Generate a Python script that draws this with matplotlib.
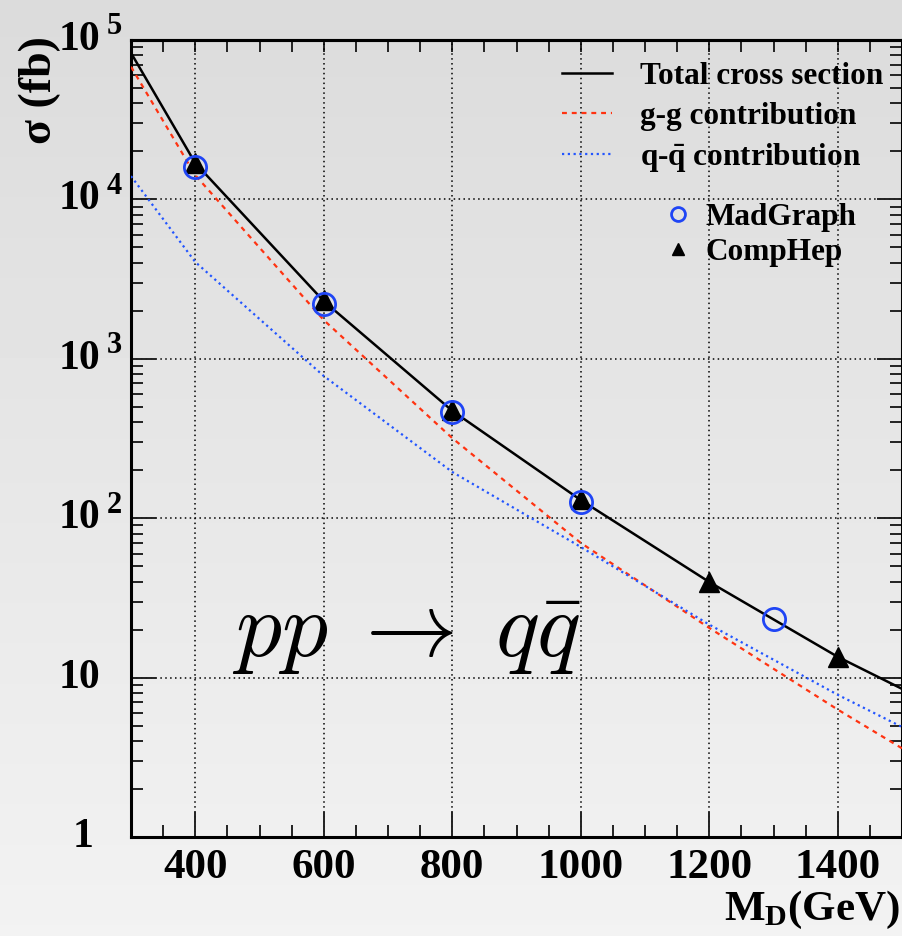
#! /usr/bin/python
# -*- coding: utf-8 -*-

import numpy as np
import matplotlib
matplotlib.use('Agg')
import matplotlib.pyplot as plt
from matplotlib.lines import Line2D
from matplotlib.ticker import FixedLocator, LogLocator, NullFormatter

plt.rcParams['font.family'] = ['Liberation Serif', 'DejaVu Serif']
plt.rcParams['font.weight'] = 'bold'
plt.rcParams['mathtext.fontset'] = 'custom'
plt.rcParams['mathtext.rm'] = 'Liberation Serif:bold'
plt.rcParams['mathtext.bf'] = 'Liberation Serif:bold'
plt.rcParams['mathtext.it'] = 'Liberation Serif:bold:italic'

# Curves (M_D in GeV, sigma in fb)
md_curve = [300, 400, 600, 800, 1000, 1200, 1400, 1500]
sigma_total = [8.3e4, 1.69e4, 2300, 472, 130, 39.8, 13.5, 8.5]
sigma_gg = [6.8e4, 1.42e4, 1750, 318, 70, 20.5, 6.3, 3.6]
sigma_qq = [1.4e4, 4050, 780, 195, 66, 21.5, 7.8, 4.9]

# Generator points
md_madgraph = [400, 600, 800, 1000, 1300]
sigma_madgraph = [1.6e4, 2200, 463, 127, 23.3]
md_comphep = [400, 600, 800, 1000, 1200, 1400]
sigma_comphep = [1.69e4, 2340, 477, 132, 39.8, 13.5]

x_ticks = [400, 600, 800, 1000, 1200, 1400]
y_decades = [0, 1, 2, 3, 4, 5]

W, H = 903, 936
fig = plt.figure(figsize=(W / 100, H / 100), dpi=100)

# gray gradient background
bg = fig.add_axes([0, 0, 1, 1], zorder=-10)
grad = np.linspace(0.86, 0.95, 256).reshape(-1, 1)
bg.imshow(grad, aspect='auto', cmap='gray', vmin=0, vmax=1, extent=[0, 1, 0, 1])
bg.axis('off')

L, R, T, B = 131, 902, 40, 837
ax = fig.add_axes([L / W, 1 - B / H, (R - L) / W, (B - T) / H])
ax.set_facecolor('none')

ax.plot(md_curve, sigma_total, color='black', lw=1.8, zorder=3)
ax.plot(md_curve, sigma_gg, color='#ff3311', lw=1.6, ls=(0, (2.2, 2.2)), zorder=3)
ax.plot(md_curve, sigma_qq, color='#2255ff', lw=1.6, ls=(0, (1, 1.6)), zorder=3)

ax.plot(md_comphep, sigma_comphep, ls='none', marker='^', ms=14, color='black', zorder=4)
ax.plot(md_madgraph, sigma_madgraph, ls='none', marker='o', ms=16, mfc='none',
        mec='#1f45f5', mew=2, zorder=5)

ax.set_yscale('log')
ax.set_xlim(300, 1500)
ax.set_ylim(1, 1e5)

ax.xaxis.set_major_locator(FixedLocator(x_ticks))
ax.xaxis.set_minor_locator(FixedLocator(np.arange(300, 1501, 50)))
ax.yaxis.set_major_locator(LogLocator(base=10, numticks=10))
ax.yaxis.set_minor_locator(LogLocator(base=10, subs=np.arange(2, 10), numticks=20))
ax.yaxis.set_major_formatter(NullFormatter())
ax.yaxis.set_minor_formatter(NullFormatter())

ax.tick_params(which='both', direction='in', top=False, right=True, width=1.4, color='#222222')
ax.tick_params(which='major', length=18)
ax.tick_params(which='minor', length=8.6)
ax.tick_params(axis='x', which='major', labelsize=31, pad=9)
ax.tick_params(axis='y', which='both', left=True, right=True)
for lab in ax.get_xticklabels():
    lab.set_fontweight('bold')

top = ax.secondary_xaxis('top')
top.xaxis.set_major_locator(FixedLocator(np.arange(300, 1501, 50)))
top.tick_params(direction='in', length=8.6, width=1.4, color='#222222', labeltop=False)

for s in ax.spines.values():
    s.set_linewidth(2.2)
for s in top.spines.values():
    s.set_linewidth(2.2)

ax.grid(True, which='major', color='black', ls=(0, (1, 2.2)), lw=1.1)

# ROOT style decade labels
ytr = ax.get_yaxis_transform()
for d in y_decades:
    if d == 0:
        ax.text(-0.049, 1, '1', transform=ytr, ha='right', va='center',
                fontsize=30, fontweight='bold')
    elif d == 1:
        ax.text(-0.040, 10, '10', transform=ytr, ha='right', va='center',
                fontsize=30, fontweight='bold')
    else:
        ax.text(-0.040, 10 ** d, '10', transform=ytr, ha='right', va='center',
                fontsize=30, fontweight='bold')
        ax.text(-0.031, 10 ** d * 1.21, str(d), transform=ytr, ha='left',
                va='center', fontsize=22, fontweight='bold')

fig.text(40 / W, 1 - 36 / H, 'σ (fb)', rotation=90, ha='center', va='top',
         fontsize=33, fontweight='bold')
fig.text(0.997, 1 - 910 / H, r'M$_{\mathrm{D}}$(GeV)', ha='right', va='center',
         fontsize=31, fontweight='bold')

ax.text(0.357, 0.252, r'$pp\;\rightarrow\;q\bar{q}$', transform=ax.transAxes,
        ha='center', va='center', fontsize=66, math_fontfamily='cm')

# legends
h1 = [Line2D([], [], color='black', lw=1.8),
      Line2D([], [], color='#ff3311', lw=1.6, ls=(0, (2.2, 2.2))),
      Line2D([], [], color='#2255ff', lw=1.6, ls=(0, (1, 1.6)))]
l1 = ['Total cross section', 'g-g contribution', r'q-$\bar{\mathrm{q}}$ contribution']
leg1 = ax.legend(h1, l1, loc='upper left', bbox_to_anchor=(0.559, 0.972),
                 frameon=False, handlelength=1.6, handletextpad=0.9,
                 labelspacing=0.33, borderpad=0, borderaxespad=0,
                 prop={'weight': 'bold', 'size': 22.5})
ax.add_artist(leg1)
h2 = [Line2D([], [], ls='none', marker='o', ms=10, mfc='none', mec='#1f45f5', mew=2),
      Line2D([], [], ls='none', marker='^', ms=9, color='black')]
l2 = ['MadGraph', 'CompHep']
ax.legend(h2, l2, loc='upper left', bbox_to_anchor=(0.689, 0.796),
          frameon=False, handlelength=1.0, handletextpad=0.38,
          labelspacing=0.2, borderpad=0, borderaxespad=0,
          prop={'weight': 'bold', 'size': 22.5})

fig.savefig('out.png', dpi=100)
